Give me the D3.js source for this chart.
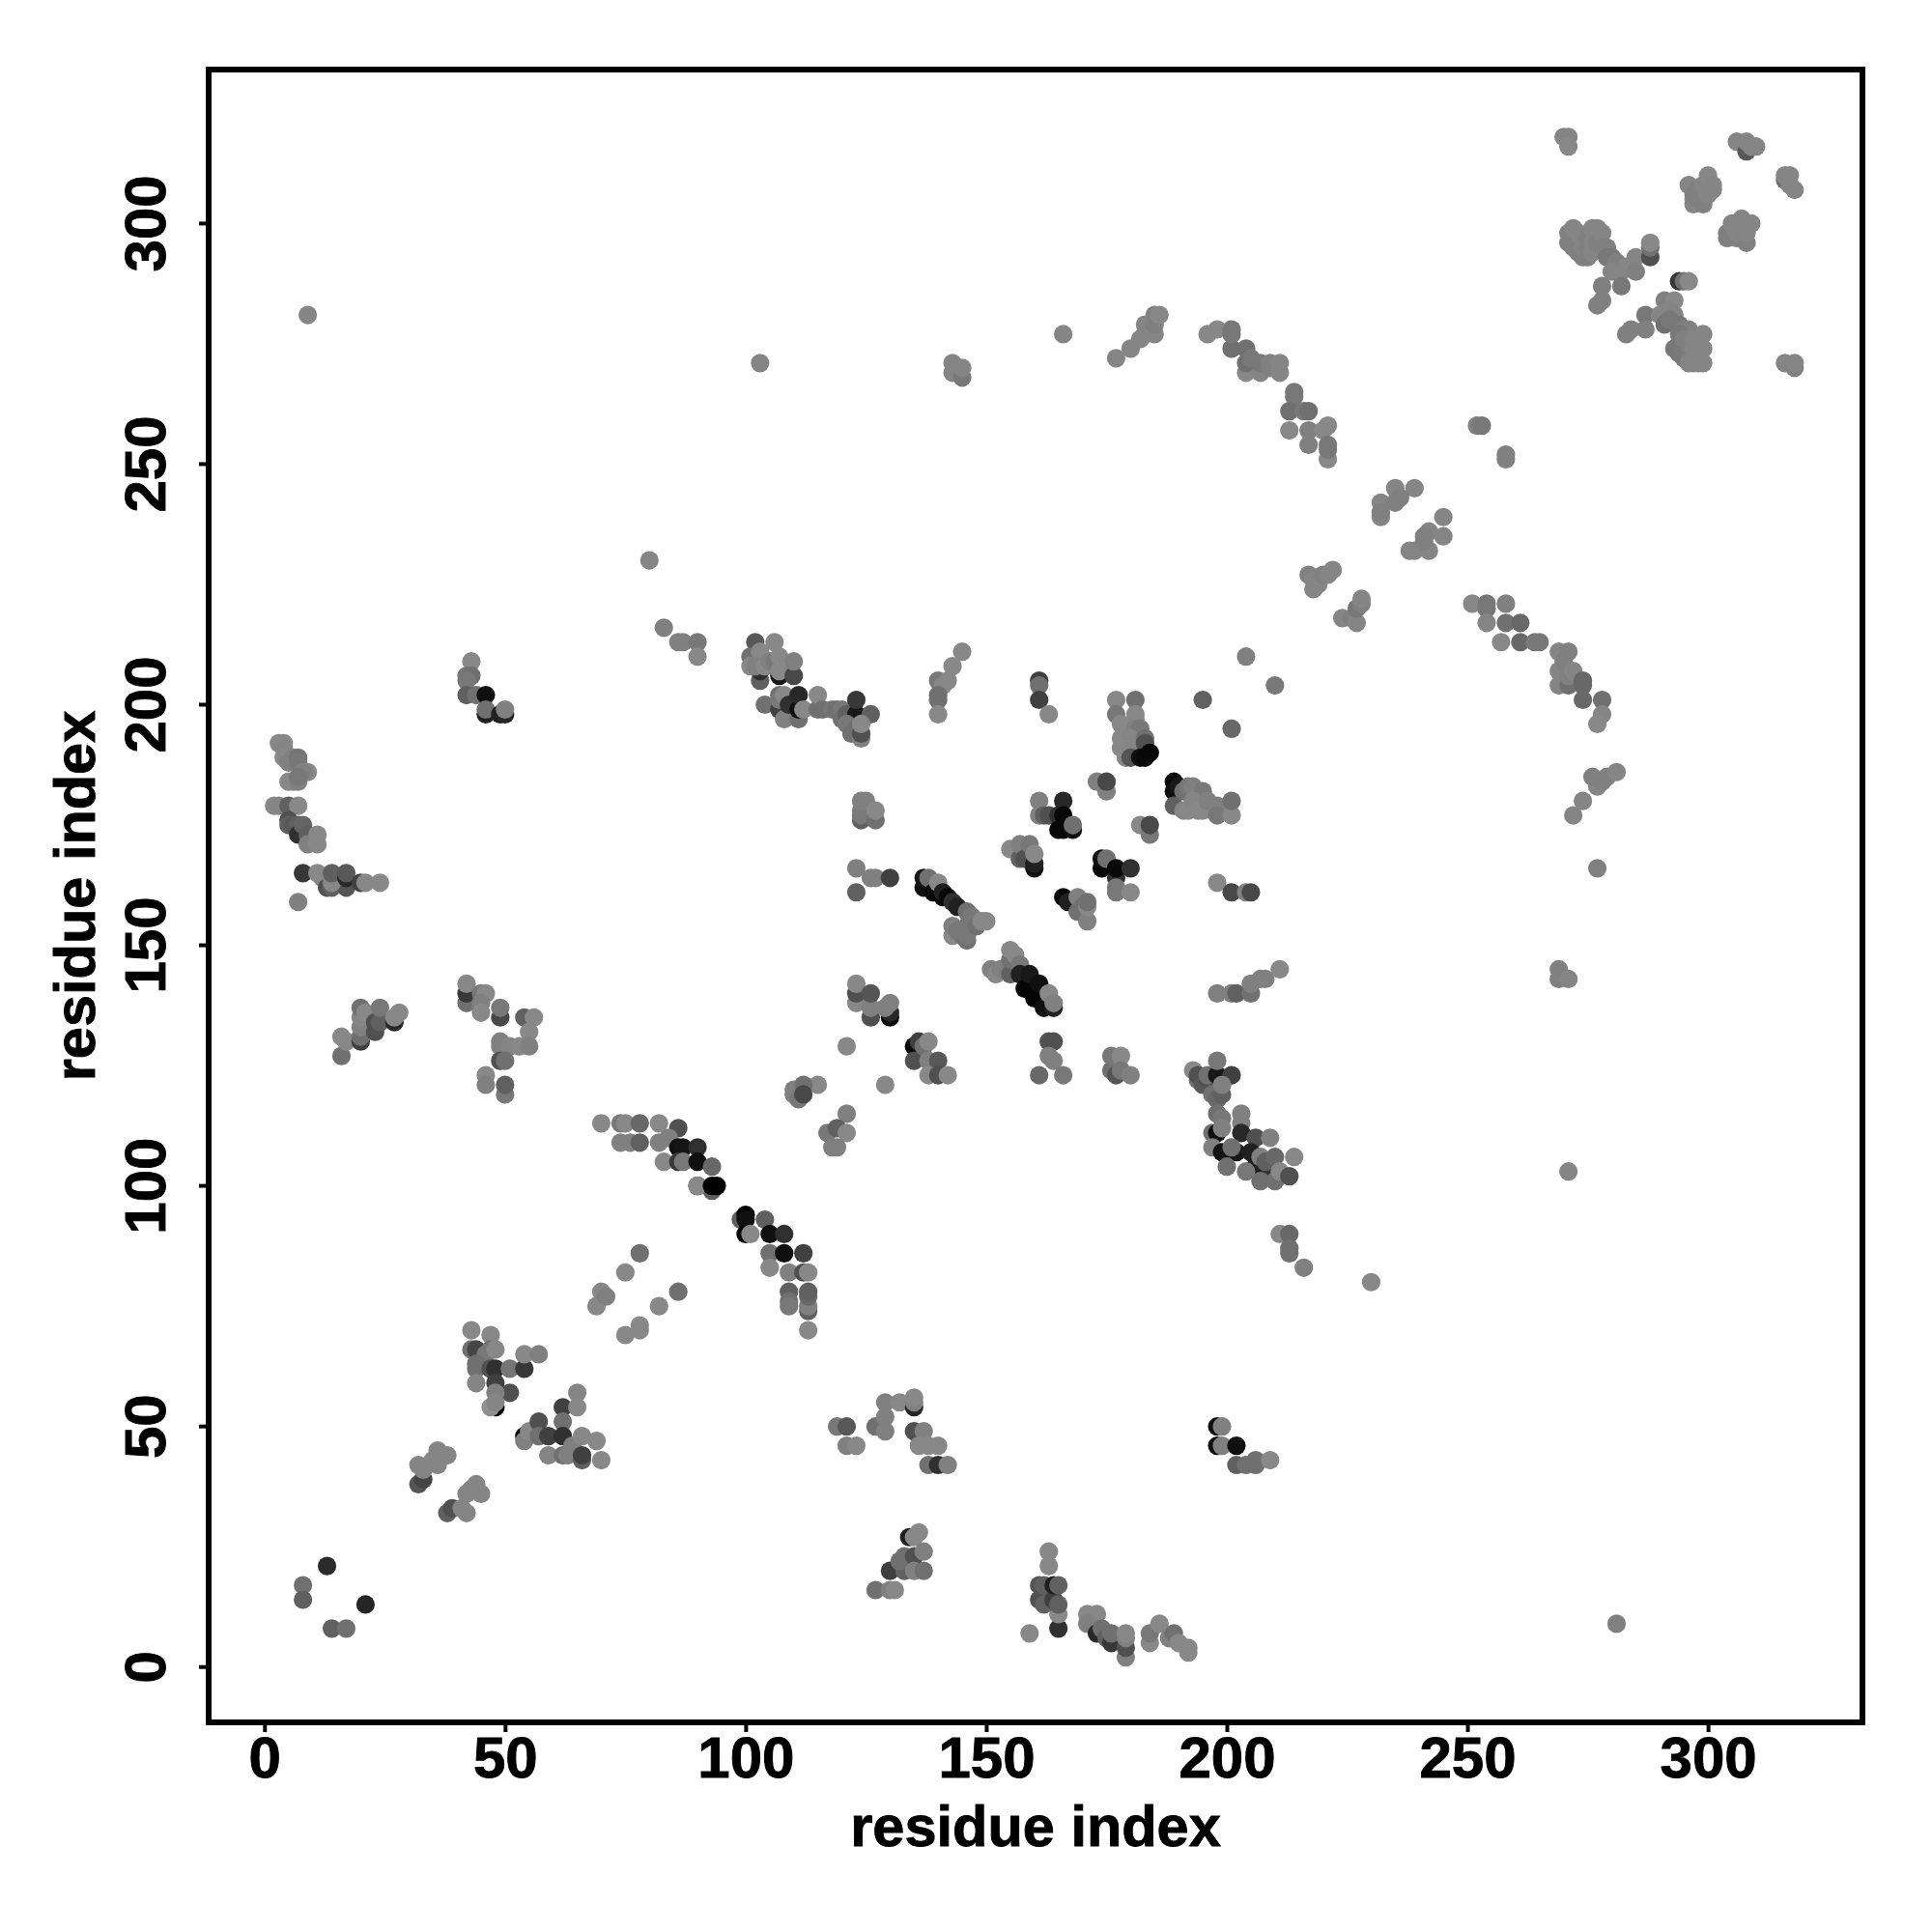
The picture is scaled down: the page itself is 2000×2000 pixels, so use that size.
<!DOCTYPE html>
<html><head><meta charset="utf-8">
<script src="https://cdn.jsdelivr.net/npm/d3@7"></script>
<style>html,body{margin:0;background:#fff}svg{display:block}text{font-family:"Liberation Sans",Arial,sans-serif;font-weight:700;fill:#000;stroke:#000;stroke-width:0.9px}</style>
</head><body><div id="c"></div>
<script>
// each contact: [residue i, residue j, grey level]
const lowerLeft=[[13,21,0x2a],[8,17,0x70],[8,14,0x60],[14,8,0x60],[17,8,0x70],[21,13,0x25],
[32,38,0x55],[33,39,0x45],[32,42,0x85],[33,41,0x85],[35,43,0x85],[36,42,0x85],[36,45,0x85],[38,44,0x85],
[38,32,0x60],[39,33,0x50],[41,33,0x85],[42,32,0x85],[42,36,0x85],[43,37,0x85],[45,36,0x85],[44,38,0x85]];
const block43=[[43,70,0x88],[47,69,0x88],[43,66,0x70],[44,66,0x45],[47,66,0x70],[46,65,0x78],[48,66,0x88],[44,63,0x70],[44,62,0x70],[44,59,0x85],[47,62,0x50],[48,62,0x30],[51,62,0x75],[54,62,0x38],[54,65,0x88],[57,65,0x80],[48,59,0x40],[51,57,0x50],[48,57,0x80],[48,54,0x00],[47,54,0x90],[48,55,0x85]];
const block54=[[54,48,0x00],[54,47,0x80],[55,49,0x88],[57,51,0x50],[57,48,0x70],[59,48,0x40],[59,44,0x85],[62,54,0x40],[65,57,0x85],[65,54,0x88],[62,51,0x70],[62,48,0x30],[62,44,0x70],[63,44,0x80],[64,46,0x80],[66,48,0x88],[69,47,0x88],[66,43,0x60],[66,44,0x40],[70,43,0x88]];
const block69=[[69,75,0x88],[70,78,0x88],[71,77,0x80],[75,82,0x88],[78,86,0x70],[86,78,0x70],[82,75,0x88],[75,69,0x88],[78,71,0x88],[78,70,0x88]];
const ridge70=[[70,113,0x88],[74,113,0x78],[75,113,0x88],[78,113,0x68],[74,109,0x80],[76,109,0x80],[78,109,0x60],[82,113,0x88],[86,112,0x50],[82,109,0x80],[84,110,0x80],[86,108,0x10],[87,108,0x15],[90,108,0x30],[83,105,0x88],[86,105,0x38],[87,105,0x78],[90,105,0x10],[93,104,0x68],[93,99,0x60],[90,100,0x00],[90,100,0x88],[93,100,0x00],[94,100,0x00],
[99,93,0x60],[100,94,0x00],[100,93,0x10],[104,93,0x60],[100,90,0x00],[101,90,0x88],[105,90,0x10],[108,90,0x30],[105,86,0x70],[108,86,0x10],[112,86,0x40],[105,83,0x88],[109,82,0x80],[112,82,0x50],[113,82,0x88],[109,78,0x60],[109,76,0x70],[109,75,0x78],[113,74,0x60],[113,75,0x80],[113,77,0x68],[113,78,0x60],[113,70,0x88]];
const upperLeft=[[43,209,0x88],[42,206,0x78],[43,206,0x70],[42,205,0x78],[42,202,0x60],[44,202,0x70],[46,202,0x10],[46,198,0x20],[46,199,0x70],[49,198,0x20],[50,198,0x25],[50,199,0x80],
[3,192,0x88],[4,192,0x88],[4,191,0x85],[4,189,0x88],[5,188,0x80],[6,189,0x80],[7,189,0x75],[7,188,0x78],[9,186,0x88],[8,186,0x80],[5,184,0x88],[6,184,0x88],[7,184,0x80],[7,185,0x78],
[2,179,0x88],[3,179,0x85],[5,179,0x60],[7,179,0x88],[5,176,0x50],[5,175,0x60],[6,175,0x58],[7,175,0x60],[7,173,0x30],[8,175,0x65],[9,173,0x60],[9,171,0x80],[11,173,0x88],[11,171,0x88],
[8,165,0x38],[11,165,0x88],[12,164,0x88],[13,162,0x50],[14,162,0x60],[17,162,0x55],[14,163,0x88],[14,165,0x60],[17,164,0x28],[17,165,0x58],[20,163,0x40],[21,163,0x88],[24,163,0x88],[7,159,0x80]];
const block16=[[16,127,0x70],[16,131,0x88],[17,130,0x88],[20,130,0x40],[20,131,0x70],[20,133,0x80],[20,135,0x85],[20,137,0x70],[21,136,0x88],[23,132,0x50],[23,134,0x50],[24,134,0x60],[24,137,0x78],[27,134,0x28],[27,135,0x88],[28,136,0x88]];
const block42=[[42,138,0x70],[42,140,0x38],[42,142,0x88],[45,140,0x78],[46,140,0x88],[45,138,0x80],[45,136,0x88],[49,135,0x48],[49,137,0x78],[54,135,0x60],[56,135,0x88],[55,132,0x88],[49,130,0x80],[49,129,0x80],[51,129,0x85],[53,129,0x88],[55,129,0x80],[49,126,0x50],[50,126,0x70],[46,123,0x88],[46,121,0x80],[50,119,0x78],[50,121,0x60]];
const block83=[[83,216,0x80],[86,213,0x80],[87,213,0x80],[90,213,0x78],[90,210,0x88],
[102,213,0x58],[106,213,0x88],[101,210,0x70],[103,211,0x88],[103,205,0x60],[101,208,0x88],[103,207,0x30],[102,208,0x80],[104,208,0x88],[105,209,0x80],[106,209,0x78],[107,206,0x18],[107,207,0x88],[107,210,0x88],[110,206,0x48],[110,209,0x80],
[104,200,0x70],[107,202,0x70],[107,199,0x40],[107,201,0x78],[108,197,0x80],[108,202,0x88],[109,200,0x30],[111,197,0x70],[111,199,0x10],[111,202,0x28],[112,199,0x88],[115,199,0x70],[115,202,0x88],[116,199,0x70],[118,199,0x75],[119,199,0x70],[120,199,0x78],[120,197,0x70],[121,198,0x60],[123,198,0x18],[123,201,0x38],[126,198,0x60],[121,196,0x78],[122,194,0x70],[123,195,0x70],[124,193,0x80],[124,194,0x50],[124,196,0x88]];
const block124=[[124,176,0x60],[124,177,0x78],[124,178,0x7a],[124,180,0x80],[125,180,0x80],[127,176,0x70],[127,178,0x88],[123,166,0x80],[123,161,0x60],[126,164,0x80],[127,164,0x80],[130,164,0x40],
[123,138,0x88],[123,140,0x50],[123,142,0x88],[126,135,0x50],[126,137,0x80],[126,140,0x55],[130,135,0x08],[130,136,0x28],[130,138,0x80],[129,137,0x80],
[121,129,0x88],[135,129,0x08],[135,126,0x50],[136,130,0x40],[137,129,0x70],[138,130,0x88],[138,126,0x80],[140,126,0x58],[138,123,0x88],[140,123,0x50],[142,123,0x88],
[129,121,0x88],[115,121,0x88],[110,120,0x80],[110,119,0x80],[111,118,0x78],[112,121,0x70],[112,119,0x48],[121,115,0x80],[117,111,0x78],[119,112,0x60],[121,111,0x88],[118,108,0x80],[119,108,0x80]];
const block140=[[145,211,0x88],[143,208,0x88],[140,205,0x78],[142,205,0x88],[141,204,0x88],[140,202,0x70],[140,201,0x70],[140,198,0x88],[161,205,0x40],[161,204,0x70],[161,201,0x40],[163,198,0x88]];
const ridge137=[[137,162,0x10],[137,164,0x18],[138,164,0x70],[139,161,0x08],[140,163,0x88],[141,160,0x08],[141,161,0x20],[142,160,0x08],[143,159,0x30],[144,158,0x20],[143,152,0x88],[143,154,0x80],[144,153,0x78],[145,152,0x78],[146,151,0x70],[146,152,0x78],[146,154,0x78],[146,157,0x70],[147,156,0x78],[148,154,0x70],[149,155,0x88],[150,155,0x88],
[151,145,0x80],[152,144,0x88],[153,145,0x80],[155,144,0x60],[155,147,0x70],[155,149,0x88],[156,148,0x88],[157,146,0x78],[157,144,0x20],[158,141,0x05],[159,144,0x18],[160,139,0x05],[161,142,0x10],[162,137,0x10],[163,140,0x88],[164,137,0x20],[164,138,0x80],
[164,130,0x50],[163,130,0x50],[164,126,0x80],[163,127,0x80],[161,123,0x68],[166,123,0x78],[176,124,0x70],[176,127,0x78],[178,127,0x88],[177,123,0x55],[178,124,0x78],[180,123,0x80]];
const block193=[[193,124,0x88],[194,122,0x70],[194,123,0x50],[195,121,0x58],[196,122,0x50],[196,123,0x70],[198,123,0x18],[198,126,0x78],[201,123,0x40],[197,119,0x70],[198,118,0x68],[199,119,0x60],[199,121,0x80],[198,115,0x70],[199,114,0x78],[203,115,0x80],[203,113,0x80],[197,111,0x70],[198,111,0x10],[199,112,0x80],[203,111,0x28],[197,108,0x80],[199,107,0x15],[202,107,0x18],[200,104,0x70],[201,108,0x70],
[206,110,0x50],[209,110,0x80],[205,107,0x20],[206,104,0x20],[204,103,0x78],[207,106,0x80],[209,103,0x30],[208,105,0x60],[207,101,0x70],[210,106,0x68],[210,101,0x70],[211,103,0x88],[213,102,0x50],[214,106,0x88],
[211,90,0x88],[213,90,0x68],[213,87,0x70],[213,86,0x70],[216,83,0x80],[230,80,0x88]];
const block155=[[155,170,0x88],[157,168,0x60],[157,171,0x80],[158,168,0x50],[159,171,0x78],[160,166,0x10],[160,167,0x20],[160,169,0x88],
[161,180,0x80],[161,177,0x80],[162,177,0x60],[163,177,0x50],[165,177,0x30],[166,180,0x28],[166,177,0x08],[165,174,0x08],[166,174,0x08],[168,174,0x10],[168,175,0x70],
[174,166,0x08],[174,168,0x10],[175,168,0x70],[177,164,0x30],[177,162,0x78],[177,161,0x78],[180,161,0x88],[177,166,0x08],[180,166,0x30],
[166,160,0x08],[167,159,0x20],[169,157,0x70],[169,160,0x80],[170,158,0x70],[171,155,0x80],[171,158,0x88],[171,159,0x70]];
const block173=[[177,201,0x88],[181,201,0x70],[177,198,0x78],[181,198,0x88],[181,197,0x88],[178,196,0x88],[181,195,0x80],[182,195,0x78],[178,193,0x88],[180,193,0x85],[178,191,0x88],[180,191,0x85],[179,189,0x88],[180,189,0x55],[183,193,0x70],[183,192,0x50],[182,189,0x10],[183,189,0x08],[184,190,0x08],
[173,184,0x80],[175,182,0x80],[175,184,0x48],[182,175,0x88],[184,173,0x78],[184,175,0x48],
[189,184,0x08],[189,182,0x10],[189,179,0x60],[190,183,0x18],[191,182,0x70],[192,183,0x78],[193,183,0x80],[195,182,0x78],[191,178,0x85],[192,178,0x88],[193,180,0x85],[194,178,0x88],[195,178,0x88],[196,180,0x80],[198,179,0x80],[198,177,0x78],[201,177,0x88],[201,180,0x70],
[204,210,0x80],[210,204,0x78],[195,201,0x60],[201,195,0x68],[198,163,0x88],[201,161,0x48],[204,161,0x80],[205,161,0x48],
[198,140,0x80],[201,140,0x80],[202,140,0x60],[205,140,0x70],[205,142,0x80],[207,143,0x80],[208,143,0x80],[211,145,0x88]];
const lowerMid=[[119,50,0x78],[121,50,0x58],[121,46,0x80],[123,46,0x88],[127,50,0x70],[129,49,0x80],[129,52,0x80],[129,55,0x80],[132,55,0x88],[135,54,0x25],[135,55,0x80],[135,56,0x88],[135,49,0x50],[137,49,0x80],[136,46,0x88],[138,46,0x88],[140,46,0x88],[138,42,0x70],[140,42,0x30],[142,42,0x80],
[198,50,0x10],[199,50,0x80],[198,46,0x10],[199,46,0x80],[202,42,0x60],[202,46,0x10],[204,42,0x70],[206,42,0x70],[206,43,0x70],[209,43,0x88],
[127,16,0x70],[130,16,0x80],[131,16,0x88],[130,20,0x40],[133,20,0x60],[132,22,0x70],[133,23,0x70],[135,23,0x50],[134,27,0x20],[135,27,0x88],[136,28,0x88],[135,20,0x80],[137,24,0x80],[137,20,0x70]];
const lowerRight=[[159,7,0x88],[165,8,0x30],[165,11,0x88],[163,24,0x88],[163,21,0x88],[161,14,0x50],[161,17,0x55],[162,13,0x60],[162,17,0x60],[164,14,0x40],[164,17,0x20],[165,13,0x60],[165,17,0x60],
[171,11,0x88],[173,11,0x88],[171,9,0x80],[173,7,0x28],[174,8,0x70],[175,6,0x60],[176,5,0x38],[176,7,0x70],[179,2,0x80],[179,4,0x50],[179,6,0x80],[179,7,0x88],
[184,5,0x88],[184,7,0x78],[186,9,0x88],[188,6,0x80],[189,7,0x70],[190,5,0x88],[192,4,0x88],[192,3,0x88],[281,9,0x80]];
const topRight=[[270,318,0x85],[271,318,0x85],[271,316,0x88],[306,317,0x85],[308,315,0x58],[308,317,0x85],[309,316,0x85],[310,316,0x85],
[296,308,0x85],[297,304,0x85],[297,305,0x85],[297,306,0x80],[298,307,0x80],[298,305,0x80],[299,304,0x80],[299,306,0x80],[299,308,0x85],[300,306,0x85],[300,308,0x85],[300,310,0x88],[301,307,0x85],[301,308,0x85],
[316,309,0x70],[316,310,0x85],[317,310,0x85],[317,308,0x85],[318,307,0x85],
[304,297,0x80],[304,298,0x80],[305,298,0x80],[305,300,0x85],[306,297,0x80],[306,298,0x85],[306,300,0x85],[307,301,0x85],[307,299,0x85],[308,296,0x80],[308,298,0x85],[308,300,0x85],[309,300,0x85],
[271,298,0x80],[271,296,0x80],[272,295,0x80],[272,297,0x80],[272,299,0x85],[273,294,0x80],[273,296,0x80],[273,298,0x85],[274,293,0x80],[274,295,0x85],[274,297,0x85],[275,293,0x80],[275,295,0x80],[275,297,0x80],[276,294,0x85],[276,296,0x85],[276,299,0x85],[277,299,0x85],[277,296,0x80],[278,298,0x85],[278,295,0x80],[279,295,0x80],[279,293,0x78],[280,293,0x78],[281,292,0x80],[280,290,0x85],[282,290,0x85],[283,291,0x85],[285,293,0x85],[285,290,0x80],
[288,293,0x50],[288,295,0x70],[288,296,0x88],[278,287,0x80],[282,287,0x78],[278,284,0x80],[277,283,0x80],
[294,288,0x38],[295,288,0x70],[296,288,0x88],[291,284,0x80],[293,284,0x88],[287,281,0x78],[290,281,0x85],[292,282,0x85],[293,281,0x85],[284,278,0x80],[283,277,0x80],[287,278,0x80],[291,279,0x70],[292,280,0x78],[294,279,0x78],[295,278,0x80],[296,278,0x80],[299,277,0x85],
[293,274,0x78],[294,273,0x78],[294,275,0x78],[294,277,0x78],[295,272,0x78],[295,274,0x7a],[295,276,0x80],[296,275,0x80],[297,272,0x85],[297,274,0x85],[297,276,0x85],[298,275,0x85],[299,274,0x85],[296,271,0x85],[297,271,0x85],[298,271,0x85],[299,271,0x85],[316,271,0x85],[318,270,0x80],[318,271,0x85]];
const upperMid=[[143,269,0x85],[143,271,0x85],[144,270,0x85],[145,268,0x78],[145,270,0x85],[166,277,0x85],[177,272,0x85],[180,274,0x85],[182,276,0x85],[183,277,0x85],[183,279,0x85],[185,277,0x85],[184,278,0x85],[185,279,0x80],[185,281,0x80],[186,281,0x88],
[196,277,0x88],[198,278,0x88],[201,274,0x70],[201,277,0x78],[201,278,0x78],[204,269,0x88],[204,271,0x70],[204,274,0x70],[205,272,0x78],[207,269,0x85],[207,271,0x78],[209,271,0x80],[209,270,0x80],[211,269,0x85],[211,271,0x85],
[214,265,0x78],[214,264,0x78],[213,261,0x70],[216,261,0x78],[217,261,0x70],[213,257,0x88],[217,257,0x80],[221,258,0x88],[220,257,0x88],[217,254,0x80],[221,251,0x88],[221,254,0x78],[221,253,0x78],
[252,258,0x80],[253,258,0x78],[258,251,0x80],[258,252,0x80],[235,245,0x85],[239,245,0x85],[232,242,0x85],[235,242,0x80],[236,243,0x80],[232,239,0x85],[232,240,0x80],[245,239,0x85],[242,236,0x85],[241,235,0x80],[245,235,0x85],[238,232,0x85],[239,232,0x85],[242,232,0x85],[241,234,0x80],
[217,227,0x80],[218,226,0x85],[218,224,0x85],[219,225,0x85],[220,227,0x80],[221,227,0x85],[222,228,0x85],[224,218,0x85],[226,218,0x80],[227,217,0x85],[227,220,0x78],[228,221,0x80],[228,222,0x85],
[251,221,0x88],[254,221,0x78],[254,220,0x78],[258,221,0x80],[254,217,0x85],[258,217,0x70],[261,217,0x68],[257,213,0x88],[261,213,0x68],[264,213,0x78],[265,213,0x78],
[269,204,0x85],[269,207,0x85],[269,211,0x85],[270,209,0x80],[271,204,0x70],[271,206,0x80],[271,211,0x80],[272,207,0x85],[274,205,0x68],[274,204,0x68],[274,201,0x68],[278,201,0x70],[278,198,0x85],[277,196,0x88],
[272,177,0x85],[274,180,0x85],[277,183,0x85],[276,185,0x80],[278,184,0x80],[279,185,0x80],[281,186,0x85],[277,166,0x80],
[269,145,0x80],[269,143,0x80],[271,143,0x85],[271,103,0x85],[9,281,0x85],[103,271,0x85],[80,230,0x85]];
const tickValues=[0,50,100,150,200,250,300];
const axisLabel="residue index";

const contactGroups=[lowerLeft,block43,block54,block69,ridge70,upperLeft,block16,block42,block83,block124,block140,ridge137,block193,block155,block173,lowerMid,lowerRight,topRight,upperMid];

const W=2000,H=2000,L=216,R=1928,T=72,B=1783;
const x=d3.scaleLinear().domain([-11.6,332.1]).range([L,R]);
const y=d3.scaleLinear().domain([-11.5,332]).range([B,T]);
const svg=d3.select("#c").append("svg").attr("width",W).attr("height",H);

svg.append("g").selectAll("circle").data(contactGroups.flat()).join("circle")
  .attr("cx",d=>x(d[0])).attr("cy",d=>y(d[1])).attr("r",9.6)
  .attr("fill",d=>d3.rgb(d[2],d[2],d[2]));

const ax=svg.append("g").attr("transform",`translate(0,${B})`)
  .call(d3.axisBottom(x).tickValues(tickValues).tickSize(10).tickPadding(0).tickFormat(d3.format("d")));
const ay=svg.append("g").attr("transform",`translate(${L},0)`)
  .call(d3.axisLeft(y).tickValues(tickValues).tickSize(10).tickPadding(0).tickFormat(d3.format("d")));
[ax,ay].forEach(g=>{g.select(".domain").remove();g.selectAll("line").attr("stroke","#000").attr("stroke-width",4);});
ax.selectAll("text").attr("y",57).attr("dy",0).attr("text-anchor","middle").style("font-size","60px");
ay.selectAll("text").attr("x",0).attr("dy",0).style("font-size","60px")
  .attr("text-anchor","middle").attr("transform","translate(-45,0) rotate(-90)");
ay.selectAll(".tick").each(function(d){d3.select(this).attr("transform",`translate(0,${y(d)})`);});

svg.append("rect").attr("x",L).attr("y",T).attr("width",R-L).attr("height",B-T)
  .attr("fill","none").attr("stroke","#000").attr("stroke-width",6);

svg.append("text").attr("x",(L+R)/2).attr("y",1911).attr("text-anchor","middle").style("font-size","59.5px").text(axisLabel);
svg.append("text").attr("transform",`translate(98,${(T+B)/2}) rotate(-90)`).attr("text-anchor","middle").style("font-size","59.5px").text(axisLabel);
</script></body></html>
